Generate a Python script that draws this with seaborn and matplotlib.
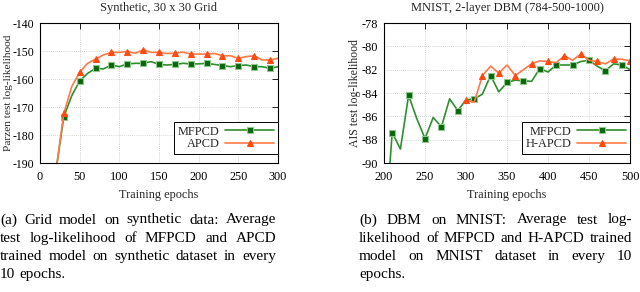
import matplotlib
matplotlib.use('Agg')
import matplotlib.pyplot as plt
from matplotlib.transforms import IdentityTransform
from matplotlib.lines import Line2D
import seaborn as sns
import pandas as pd

# ---------------- data ----------------
epochs_a = list(range(20, 301, 10))
mfpcd_a = [-193, -173.5, -166.0, -160.7, -158.0, -156.2, -156.4, -155.0, -155.6, -154.6,
           -154.4, -154.4, -153.8, -154.8, -155.0, -154.8, -154.4, -154.6, -154.6, -154.4,
           -154.8, -155.2, -155.6, -155.2, -155.0, -155.6, -155.6, -156.2, -155.6]
apcd_a = [-193, -172.3, -162.7, -157.6, -154.4, -152.9, -151.4, -150.5, -150.5, -150.2,
          -150.8, -149.6, -150.5, -150.5, -150.9, -150.8, -150.4, -151.1, -151.1, -151.1,
          -150.9, -151.7, -151.7, -152.6, -152.0, -151.7, -153.2, -153.2, -152.6]

epochs_b = list(range(200, 501, 10))
mfpcd_b = [-97.0, -87.4, -88.8, -84.2, -86.2, -87.9, -86.1, -86.9, -84.5, -85.5,
           -84.6, -84.5, -84.1, -82.5, -83.9, -83.1, -82.9, -82.95, -83.0, -81.9,
           -82.2, -81.6, -81.6, -81.6, -81.3, -81.2, -81.7, -82.1, -81.5, -81.6, -82.0]
epochs_b2 = list(range(300, 501, 10))
hapcd_b = [-84.6, -84.8, -82.5, -81.7, -82.3, -81.6, -82.5, -82.0, -81.5, -81.25,
           -81.3, -81.4, -80.8, -81.2, -80.65, -81.2, -81.3, -81.5, -81.1, -81.1, -81.25]

title_a = "Synthetic, 30 x 30 Grid"
title_b = "MNIST, 2-layer DBM (784-500-1000)"
ylabel_a = "Parzen test log-likelihood"
ylabel_b = "AIS test log-likelihood"
xlabel = "Training epochs"
xticks_a = [0, 50, 100, 150, 200, 250, 300]
yticks_a = [-190, -180, -170, -160, -150, -140]
xticks_b = [200, 250, 300, 350, 400, 450, 500]
yticks_b = [-90, -88, -86, -84, -82, -80, -78]

caption_a = ["(a) Grid model on synthetic data: Average",
             "test log-likelihood of MFPCD and APCD",
             "trained model on synthetic dataset in every",
             "10 epochs."]
caption_b = ["(b) DBM on MNIST: Average test log-",
             "likelihood of MFPCD and H-APCD trained",
             "model on MNIST dataset in every 10",
             "epochs."]

# ---------------- style ----------------
sns.set_theme(style='white')
plt.rcParams['font.family'] = ['Liberation Serif', 'DejaVu Serif']
plt.rcParams['axes.unicode_minus'] = False

W, H = 640, 292
fig = plt.figure(figsize=(W / 100, H / 100), dpi=100)

GREEN_LINE = '#2f8f2f'
GREEN_FACE = '#0a640a'
GREEN_EDGE = '#8cc88c'
ORANGE_LINE = '#ff7a4a'
ORANGE_FACE = '#ff4a10'

FS = 8.8


def axes_px(x0, x1, y0, y1):
    return fig.add_axes([x0 / W, 1 - y1 / H, (x1 - x0) / W, (y1 - y0) / H])


def style_axes(ax, xticks, yticks, xlim, ylim, title, ylabel, ylpad, yfs, ypad, ylfs):
    ax.set_xlim(*xlim)
    ax.set_ylim(*ylim)
    ax.set_xticks(xticks)
    ax.set_yticks(yticks)
    ax.set_xticklabels([str(v) for v in xticks])
    ax.set_yticklabels([str(v) for v in yticks])
    ax.grid(True, color='#c8c8c8', linestyle=(0, (1, 1.5)), linewidth=0.6)
    ax.tick_params(direction='in', top=True, right=True, length=4, width=0.6,
                   labelsize=FS, colors='black')
    ax.tick_params(axis='y', pad=ypad, labelsize=yfs)
    ax.tick_params(axis='x', pad=5.5)
    for s in ax.spines.values():
        s.set_color('black')
        s.set_linewidth(0.8)
    ax.set_title(title, fontsize=9, pad=9)
    ax.set_xlabel(xlabel, fontsize=8.8, labelpad=4.5)
    ax.set_ylabel(ylabel, fontsize=ylfs, labelpad=ylpad)
    ax.set_facecolor('white')


STYLE = {
    'green': dict(color=GREEN_LINE, marker='s', markerfacecolor=GREEN_FACE,
                  markeredgecolor=GREEN_EDGE),
    'orange': dict(color=ORANGE_LINE, marker='^', markerfacecolor=ORANGE_FACE,
                   markeredgecolor=ORANGE_FACE),
}


def draw(ax, x, y, label, key, me):
    df = pd.DataFrame({'epoch': x, 'value': y})
    sns.lineplot(data=df, x='epoch', y='value', ax=ax, linewidth=1.2,
                 markersize=4.5, markeredgewidth=0.8, markevery=me,
                 sort=False, errorbar=None, **STYLE[key])
    return Line2D([], [], linewidth=1.2, markersize=4.5, markeredgewidth=0.8,
                  label=label, **STYLE[key])


# left panel
ax1 = axes_px(40, 278, 23, 163)
h1 = [draw(ax1, epochs_a, mfpcd_a, 'MFPCD', 'green', (1, 2)),
      draw(ax1, epochs_a, apcd_a, 'APCD', 'orange', (1, 2))]
style_axes(ax1, xticks_a, yticks_a, (0, 300), (-190, -140), title_a, ylabel_a,
           0.0, 8.5, 4.0, 8.2)

# right panel
ax2 = axes_px(384, 630, 23, 163)
h2 = [draw(ax2, epochs_b, mfpcd_b, 'MFPCD', 'green', (1, 2)),
      draw(ax2, epochs_b2, hapcd_b, 'H-APCD', 'orange', (0, 2))]
style_axes(ax2, xticks_b, yticks_b, (200, 500), (-90, -78), title_b, ylabel_b,
           0.5, FS, 4.5, 8.5)

for ax, hs in ((ax1, h1), (ax2, h2)):
    leg = ax.legend(handles=hs, loc='upper right', bbox_to_anchor=(1.0, (163 - 122) / 140),
                    markerfirst=False, fontsize=FS, frameon=True, fancybox=False,
                    framealpha=1, edgecolor='black', borderaxespad=0, numpoints=1,
                    handlelength=4.0, handletextpad=0.5, labelspacing=0.05,
                    borderpad=0.3)
    leg.get_frame().set_linewidth(0.7)


# ---------------- captions (justified) ----------------
CAP_FS = 11
renderer = fig.canvas.get_renderer()


def justified(lines, x0, x1, y0, dy):
    space = 0.25 * CAP_FS * 100 / 72
    for i, line in enumerate(lines):
        words = line.split()
        y = H - (y0 + i * dy)
        texts = [fig.text(0, y, w, transform=IdentityTransform(), fontsize=CAP_FS,
                          va='baseline', ha='left', color='black') for w in words]
        widths = [t.get_window_extent(renderer).width for t in texts]
        if i == len(lines) - 1 or len(words) == 1:
            gap = space
        else:
            gap = (x1 - x0 - sum(widths)) / (len(words) - 1)
        x = x0
        for t, wd in zip(texts, widths):
            t.set_x(x)
            x += wd + gap


justified(caption_a, 0, 276, 223.5, 18.3)
justified(caption_b, 359, 632, 223.5, 18.3)

fig.savefig('out.png', dpi=100, facecolor='white')
